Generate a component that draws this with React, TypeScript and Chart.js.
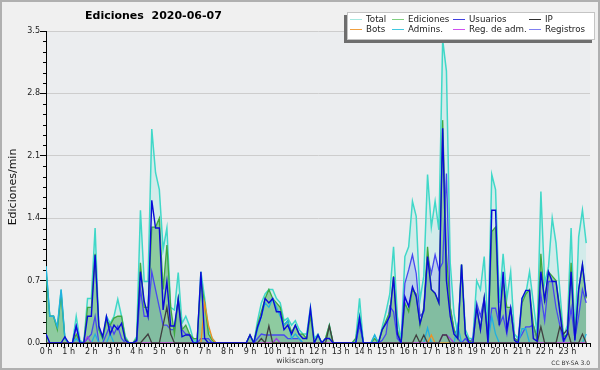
import React, { useEffect, useRef } from 'react';
import { Chart, registerables } from 'chart.js';

Chart.register(...registerables);

// 10-minute slots, 6 per hour, 144 per day
const hourLabels = ['0 h','1 h','2 h','3 h','4 h','5 h','6 h','7 h','8 h','9 h','10 h','11 h','12 h','13 h','14 h','15 h','16 h','17 h','18 h','19 h','20 h','21 h','22 h','23 h'];
const yTickValues = [0, 0.7, 1.4, 2.1, 2.8, 3.5];

const total = [
  0.86,0.30,0.30,0.18,0.60,0.05,
  0.00,0.00,0.30,0.03,0.00,0.50,
  0.50,1.29,0.15,0.04,0.30,0.22,
  0.30,0.49,0.30,0.07,0.00,0.00,
  0.07,1.49,0.69,0.69,2.40,1.91,
  1.72,1.05,1.29,0.40,0.37,0.79,
  0.22,0.30,0.19,0.04,0.00,0.80,
  0.50,0.15,0.05,0.00,0.00,0.00,
  0.00,0.00,0.00,0.00,0.00,0.00,
  0.09,0.00,0.25,0.45,0.55,0.60,
  0.60,0.50,0.45,0.25,0.28,0.20,
  0.25,0.15,0.10,0.10,0.40,0.05,
  0.10,0.00,0.05,0.20,0.00,0.00,
  0.00,0.00,0.00,0.00,0.05,0.50,
  0.00,0.00,0.00,0.09,0.00,0.18,
  0.35,0.55,1.08,0.30,0.02,0.97,
  1.08,1.59,1.42,0.48,0.75,1.89,
  1.30,1.59,1.27,3.40,3.05,0.90,
  0.33,0.10,0.88,0.15,0.05,0.05,
  0.70,0.60,0.97,0.15,1.89,1.72,
  0.45,1.00,0.50,0.80,0.10,0.05,
  0.50,0.55,0.80,0.45,0.10,1.70,
  0.67,0.85,1.40,1.12,0.60,0.07,
  0.20,1.29,0.05,1.19,1.49,1.12,
];

const ediciones = [
  0.80,0.30,0.30,0.15,0.55,0.05,
  0.00,0.00,0.10,0.00,0.00,0.40,
  0.40,1.00,0.15,0.05,0.25,0.20,
  0.28,0.30,0.30,0.05,0.00,0.00,
  0.05,0.90,0.40,0.40,1.30,1.30,
  1.40,0.60,1.10,0.40,0.10,0.50,
  0.15,0.20,0.10,0.05,0.05,0.70,
  0.45,0.10,0.03,0.00,0.00,0.00,
  0.00,0.00,0.00,0.00,0.00,0.00,
  0.09,0.00,0.20,0.35,0.50,0.60,
  0.50,0.45,0.40,0.20,0.25,0.12,
  0.20,0.10,0.10,0.05,0.30,0.00,
  0.09,0.00,0.05,0.20,0.00,0.00,
  0.00,0.00,0.00,0.00,0.05,0.30,
  0.00,0.00,0.00,0.05,0.00,0.15,
  0.25,0.35,0.75,0.15,0.00,0.45,
  0.35,0.60,0.55,0.20,0.40,1.08,
  0.60,0.55,0.45,2.50,1.00,0.40,
  0.15,0.05,0.88,0.10,0.03,0.00,
  0.40,0.15,0.50,0.05,1.25,1.30,
  0.20,0.70,0.40,0.40,0.05,0.02,
  0.45,0.55,0.60,0.20,0.05,1.00,
  0.45,0.80,0.75,0.70,0.40,0.07,
  0.10,0.90,0.05,0.60,0.88,0.50,
];

const usuarios = [
  0.10,0.00,0.00,0.00,0.00,0.07,
  0.00,0.00,0.19,0.00,0.00,0.30,
  0.30,0.99,0.19,0.07,0.30,0.10,
  0.20,0.15,0.22,0.03,0.00,0.00,
  0.03,0.80,0.47,0.30,1.60,1.29,
  1.29,0.37,0.69,0.19,0.19,0.49,
  0.07,0.09,0.09,0.00,0.00,0.80,
  0.05,0.00,0.00,0.00,0.00,0.00,
  0.00,0.00,0.00,0.00,0.00,0.00,
  0.09,0.00,0.18,0.30,0.50,0.45,
  0.50,0.35,0.35,0.15,0.20,0.10,
  0.20,0.10,0.05,0.05,0.39,0.00,
  0.09,0.00,0.05,0.05,0.00,0.00,
  0.00,0.00,0.00,0.00,0.00,0.28,
  0.00,0.00,0.00,0.00,0.00,0.15,
  0.22,0.30,0.74,0.10,0.00,0.52,
  0.41,0.63,0.52,0.22,0.37,0.97,
  0.60,0.56,0.45,2.41,0.70,0.30,
  0.10,0.05,0.88,0.10,0.00,0.00,
  0.40,0.15,0.50,0.00,1.49,1.49,
  0.20,0.80,0.15,0.39,0.03,0.00,
  0.50,0.59,0.59,0.05,0.02,0.80,
  0.48,0.80,0.69,0.69,0.35,0.03,
  0.10,0.80,0.03,0.60,0.88,0.52,
];

const ip = [
  0,0,0,0,0,0,
  0,0,0,0,0,0,
  0,0,0,0,0,0,
  0,0,0,0,0,0,
  0,0,0.05,0.10,0,0,
  0,0.20,0.40,0.10,0,0,
  0,0,0,0,0,0,
  0,0,0,0,0,0,
  0,0,0,0,0,0,
  0,0,0,0.05,0,0.19,
  0,0,0,0,0,0,
  0,0,0,0,0,0,
  0,0,0,0.19,0,0,
  0,0,0,0,0,0,
  0,0,0,0,0,0,
  0,0,0,0,0,0,
  0,0,0.09,0,0.09,0,
  0,0,0,0.09,0.09,0,
  0,0,0,0,0,0,
  0,0,0,0,0,0,
  0,0,0,0,0,0,
  0,0,0,0,0,0.18,
  0,0,0,0,0.18,0.10,
  0.15,0,0,0,0.10,0,
];

const bots = [
  0,0,0,0,0,0, 0,0,0,0,0,0, 0,0,0,0,0,0, 0,0,0,0,0,0,
  0,0,0,0,0,0, 0,0,0,0,0,0, 0,0,0,0,0,0, 0.45,0.20,0.05,0,0,0,
  0,0,0,0,0,0, 0,0,0,0,0,0, 0,0,0,0,0,0, 0,0,0,0,0,0,
  0,0,0,0,0,0, 0,0,0,0,0,0, 0,0,0,0,0,0, 0,0,0,0,0,0,
  0,0,0,0,0,0, 0.09,0,0,0,0,0, 0,0,0,0,0,0, 0,0,0,0,0,0,
  0,0,0,0,0,0, 0,0,0,0,0,0, 0,0,0,0,0,0, 0,0,0,0,0,0,
];

const admins = [
  0.86,0.30,0.30,0.18,0.60,0.05,
  0,0,0.05,0,0,0,
  0,0.10,0,0,0,0.10,
  0,0,0,0,0,0,
  0,0,0,0,0,0,
  0,0,0,0,0,0,
  0,0,0,0,0,0,
  0,0,0,0,0,0,
  0,0,0,0,0,0,
  0,0,0.15,0.30,0.45,0.40,
  0.50,0.40,0.30,0.20,0.25,0.05,
  0.10,0.05,0,0,0,0,
  0.09,0,0,0,0,0,
  0,0,0,0,0,0.30,
  0,0,0,0.09,0,0,
  0,0,0,0,0,0,
  0,0,0,0,0,0.17,
  0,0,0,0,0,0,
  0,0.20,0,0,0,0,
  0,0,0,0,0.30,0.10,
  0,0,0,0,0,0,
  0.16,0.16,0,0,0,0,
  0,0,0,0,0,0,
  0,0,0,0,0,0.10,
];

const regAdm = [
  0,0,0,0,0,0, 0,0,0,0,0,0.07, 0,0,0,0,0,0, 0,0,0,0,0,0,
  0,0,0,0,0,0, 0,0,0,0,0,0, 0,0,0,0,0,0, 0,0,0,0,0,0,
  0,0,0,0,0,0, 0,0,0,0,0,0, 0,0.05,0,0,0,0, 0,0,0,0,0,0,
  0,0,0,0,0,0, 0,0,0,0,0,0, 0,0,0,0,0,0, 0,0,0,0,0,0,
  0,0,0,0,0,0, 0,0,0,0.09,0.09,0.05, 0,0,0,0,0,0, 0,0,0,0,0,0,
  0,0,0,0,0,0, 0,0,0,0,0,0, 0,0,0,0,0,0, 0,0,0,0,0,0,
];

const registros = [
  0,0,0,0,0,0,
  0,0,0.19,0,0,0.05,
  0.10,0.30,0,0,0.10,0.20,
  0.10,0.19,0.05,0,0,0,
  0,0.60,0.30,0.30,0.80,0.60,
  0.40,0.20,0.20,0.15,0.15,0.49,
  0.15,0.10,0.10,0,0,0.05,
  0.05,0.05,0,0,0,0,
  0,0,0,0,0,0,
  0,0,0.05,0.10,0.09,0.09,
  0.09,0.09,0.09,0.09,0.05,0.05,
  0.05,0.05,0,0,0,0,
  0,0,0,0,0,0,
  0,0,0,0,0,0.20,
  0,0,0,0,0,0.03,
  0.10,0.41,0.35,0.05,0,0.67,
  0.82,0.99,0.78,0.30,0.35,0.97,
  0.78,0.99,0.82,0.90,1.90,0.40,
  0.15,0.05,0,0.05,0,0.05,
  0.45,0.30,0.50,0.05,0.39,0.39,
  0.20,0.30,0.10,0.39,0.05,0.03,
  0.10,0.18,0.18,0.20,0.05,0.54,
  0.25,0.69,0.69,0.40,0.20,0,
  0.10,0.39,0.05,0.30,0.60,0.45,
];

const legendItems = [
  { label: 'Total', color: '#a6e8e0' },
  { label: 'Ediciones', color: '#80d080' },
  { label: 'Usuarios', color: '#4040e0' },
  { label: 'IP', color: '#303030' },
  { label: 'Bots', color: '#f0a040' },
  { label: 'Admins.', color: '#40c8e0' },
  { label: 'Reg. de adm.', color: '#d050f0' },
  { label: 'Registros', color: '#8080f0' },
];

const FONT = '"DejaVu Sans", sans-serif';

const decorPlugin = {
  id: 'decor',
  beforeDraw(chart: any) {
    const { ctx, chartArea: a } = chart;
    ctx.save();
    ctx.fillStyle = '#f0f0f0';
    ctx.fillRect(0, 0, chart.width, chart.height);
    ctx.fillStyle = '#ebedef';
    ctx.fillRect(a.left, a.top, a.right - a.left, a.bottom - a.top);
    ctx.restore();
  },
  afterDraw(chart: any) {
    const { ctx, chartArea: a } = chart;
    const ys = chart.scales.y;
    ctx.save();
    // minor y ticks
    ctx.strokeStyle = '#000';
    ctx.lineWidth = 1;
    for (let k = 0; k <= 30; k++) {
      if (k % 6 === 0) continue;
      const py = Math.round(ys.getPixelForValue((k * 0.7) / 6)) + 0.5;
      ctx.beginPath();
      ctx.moveTo(a.left - 3, py);
      ctx.lineTo(a.left, py);
      ctx.stroke();
    }
    // outer border
    ctx.strokeStyle = '#b0b0b0';
    ctx.lineWidth = 2;
    ctx.strokeRect(1, 1, chart.width - 2, chart.height - 2);
    // title
    ctx.fillStyle = '#000';
    ctx.font = `bold 11px ${FONT}`;
    ctx.textAlign = 'left';
    ctx.textBaseline = 'middle';
    ctx.fillText('Ediciones  2020-06-07', 85, 16);
    // legend
    ctx.fillStyle = '#6e6e6e';
    ctx.fillRect(344, 15, 248, 28);
    ctx.fillStyle = '#ffffff';
    ctx.fillRect(347, 12, 248, 28);
    ctx.strokeStyle = '#c4c4c4';
    ctx.lineWidth = 1;
    ctx.strokeRect(347.5, 12.5, 247, 27);
    const lineX = [350, 392, 453, 529];
    const textX = [366, 408, 469, 545];
    const rowY = [19.5, 29.5];
    ctx.font = `8.7px ${FONT}`;
    legendItems.forEach((it, i) => {
      const col = i % 4;
      const row = Math.floor(i / 4);
      ctx.strokeStyle = it.color;
      ctx.lineWidth = 1;
      ctx.beginPath();
      ctx.moveTo(lineX[col], rowY[row]);
      ctx.lineTo(lineX[col] + 12, rowY[row]);
      ctx.stroke();
      ctx.fillStyle = '#222';
      ctx.fillText(it.label, textX[col], rowY[row]);
    });
    // footer
    ctx.fillStyle = '#333';
    ctx.font = `7.6px ${FONT}`;
    ctx.textAlign = 'center';
    ctx.fillText('wikiscan.org', 300, 361.5);
    ctx.font = `6px ${FONT}`;
    ctx.textAlign = 'right';
    ctx.fillText('CC BY-SA 3.0', 590, 363);
    ctx.restore();
  },
};

function series(label: string, values: number[], color: string, width: number, fillColor: string | null, order: number) {
  return {
    label,
    data: values.map((v, i) => ({ x: i, y: v })),
    borderColor: color,
    backgroundColor: fillColor || 'rgba(0,0,0,0)',
    fill: fillColor ? 'origin' : false,
    borderWidth: width,
    pointRadius: 0,
    tension: 0,
    order,
  };
}

export default function App() {
  const ref = useRef<HTMLCanvasElement>(null);
  useEffect(() => {
    document.body.style.margin = '0';
    const tickFont = { family: FONT, size: 8 };
    const chart = new Chart(ref.current as HTMLCanvasElement, {
      type: 'line',
      data: {
        datasets: [
          series('Total', total, '#40d8c8', 1.5, 'rgba(64,224,208,0.14)', 10),
          series('Registros', registros, '#4848f0', 1.3, 'rgba(64,64,240,0.15)', 9),
          series('Ediciones', ediciones, '#40a840', 1.3, 'rgba(60,165,70,0.45)', 8),
          series('Admins.', admins, '#22b0e0', 1.3, null, 7),
          series('Bots', bots, '#f09020', 1.3, null, 6),
          series('Reg. de adm.', regAdm, '#a040e0', 1.3, null, 5),
          series('IP', ip, '#404040', 1.3, null, 4),
          series('Usuarios', usuarios, '#0a0ad8', 1.4, null, 1),
        ] as any,
      },
      options: {
        responsive: false,
        animation: false,
        layout: { padding: { left: 0, right: 10, top: 31, bottom: 0 } },
        plugins: {
          legend: { display: false },
          tooltip: { enabled: false },
          filler: { drawTime: 'beforeDatasetsDraw' },
        } as any,
        scales: {
          x: {
            type: 'linear',
            min: 0,
            max: 144,
            afterBuildTicks: (s: any) => {
              s.ticks = Array.from({ length: 145 }, (_, i) => ({ value: i }));
            },
            afterFit: (s: any) => { s.height = 27; },
            grid: { drawOnChartArea: false, drawTicks: true, tickLength: 4, tickColor: '#000' },
            border: { display: true, color: '#000', width: 1 },
            ticks: {
              autoSkip: false,
              maxRotation: 0,
              padding: 0,
              font: tickFont,
              color: '#222',
              callback: (v: any) => (v % 6 === 0 && v < 144 ? hourLabels[v / 6] : ''),
            },
          },
          y: {
            min: 0,
            max: 3.5,
            afterBuildTicks: (s: any) => {
              s.ticks = yTickValues.map((v) => ({ value: v }));
            },
            afterFit: (s: any) => { s.width = 46; },
            grid: { color: '#cdcdcd', tickColor: '#000', tickLength: 6, drawTicks: true },
            border: { display: true, color: '#000', width: 1 },
            ticks: {
              padding: 0,
              font: tickFont,
              color: '#222',
              callback: (v: any) => Number(v).toFixed(1),
            },
            title: {
              display: true,
              text: 'Ediciones/min',
              font: { family: FONT, size: 11 },
              color: '#111',
              padding: { top: 7, bottom: 0 },
            },
          },
        },
      } as any,
      plugins: [decorPlugin],
    });
    return () => chart.destroy();
  }, []);
  return <canvas ref={ref} width={600} height={370} style={{ display: 'block' }} />;
}
